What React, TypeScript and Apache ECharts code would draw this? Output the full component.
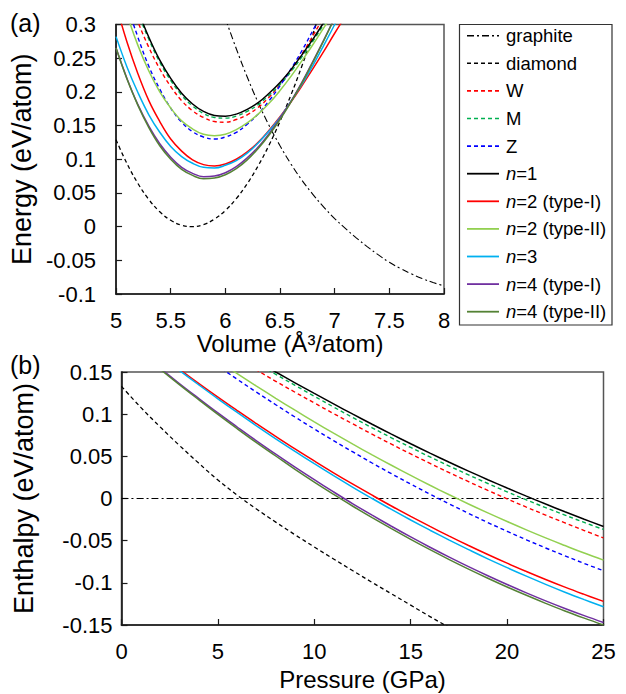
import React, { useEffect, useRef } from 'react';
import * as echarts from 'echarts';

const FONT = '"Liberation Sans", Arial, Helvetica, sans-serif';

// ---------- (a) Energy vs. volume ----------
const volumes = [5.0, 5.1, 5.2, 5.3, 5.4, 5.5, 5.6, 5.7, 5.8, 5.9, 6.0, 6.1, 6.2, 6.3, 6.4, 6.5, 6.6, 6.7, 6.8, 6.9, 7.0, 7.1, 7.2, 7.3, 7.4, 7.5, 7.6, 7.7, 7.8, 7.9, 8.0];
const N = null;
const eGraphite = [N, N, N, N, N, N, N, N, N, N, 0.309, 0.264, 0.222, 0.184, 0.150, 0.120, 0.093, 0.069, 0.048, 0.029, 0.012, -0.003, -0.017, -0.030, -0.042, -0.053, -0.062, -0.070, -0.077, -0.083, -0.088];
const eDiamond = [0.129, 0.0936, 0.0641, 0.0402, 0.022, 0.0094, 0.0021, 0.0, 0.0031, 0.0111, 0.0239, 0.0415, 0.0637, 0.0903, 0.1211, 0.1563, 0.1954, 0.2384, 0.2853, 0.3358];
const eW = [0.399, 0.348, 0.304, 0.266, 0.234, 0.208, 0.187, 0.172, 0.162, 0.156, 0.155, 0.159, 0.166, 0.177, 0.192, 0.211, 0.232, 0.256, 0.283, 0.312, 0.343];
const eM = [0.419, 0.365, 0.318, 0.278, 0.244, 0.217, 0.195, 0.179, 0.168, 0.162, 0.161, 0.164, 0.171, 0.181, 0.195, 0.211, 0.230, 0.252, 0.275, 0.300, 0.326];
const eZ = [0.390, 0.331, 0.281, 0.238, 0.204, 0.176, 0.155, 0.141, 0.133, 0.130, 0.133, 0.140, 0.152, 0.167, 0.187, 0.209, 0.234, 0.261, 0.291, 0.322];
const eN1 = [0.422, 0.368, 0.321, 0.281, 0.247, 0.220, 0.198, 0.182, 0.171, 0.165, 0.164, 0.167, 0.174, 0.184, 0.198, 0.214, 0.233, 0.255, 0.278, 0.303, 0.329];
const eN2I = [0.329, 0.274, 0.227, 0.187, 0.156, 0.130, 0.112, 0.099, 0.092, 0.090, 0.093, 0.100, 0.111, 0.125, 0.143, 0.163, 0.185, 0.209, 0.234, 0.260, 0.287, 0.313];
const eN2II = [0.368, 0.315, 0.269, 0.231, 0.200, 0.176, 0.157, 0.145, 0.137, 0.135, 0.137, 0.144, 0.154, 0.167, 0.183, 0.202, 0.223, 0.246, 0.270, 0.295, 0.320];
const eN3 = [0.282, 0.237, 0.199, 0.166, 0.140, 0.119, 0.104, 0.094, 0.088, 0.087, 0.091, 0.098, 0.109, 0.124, 0.142, 0.162, 0.186, 0.211, 0.239, 0.269, 0.300, 0.333];
const eN4I = [0.265, 0.220, 0.181, 0.149, 0.123, 0.103, 0.088, 0.079, 0.074, 0.075, 0.080, 0.089, 0.102, 0.118, 0.138, 0.161, 0.186, 0.214, 0.245, 0.277, 0.310];
const eN4II = [0.265, 0.219, 0.180, 0.147, 0.120, 0.100, 0.085, 0.076, 0.071, 0.072, 0.077, 0.086, 0.099, 0.116, 0.136, 0.159, 0.185, 0.213, 0.244, 0.276, 0.310];

// ---------- (b) Enthalpy vs. pressure ----------
const pressures = [0, 1, 2, 3, 4, 5, 6, 7, 8, 9, 10, 11, 12, 13, 14, 15, 16, 17, 18, 19, 20, 21, 22, 23, 24, 25];
const hGraphite = [0, 0, 0, 0, 0, 0, 0, 0, 0, 0, 0, 0, 0, 0, 0, 0, 0, 0, 0, 0, 0, 0, 0, 0, 0, 0];
const hDiamond = [0.133, 0.108, 0.085, 0.063, 0.042, 0.022, 0.004, -0.0125, -0.028, -0.043, -0.0575, -0.0717, -0.0857, -0.0995, -0.113, -0.1265, -0.14, -0.153, -0.166];
const hW = [N, N, N, N, N, N, 0.166, 0.1525, 0.139, 0.126, 0.1133, 0.1007, 0.0884, 0.0762, 0.0644, 0.0528, 0.0416, 0.0306, 0.0200, 0.0096, -0.0004, -0.0102, -0.0197, -0.0289, -0.0380, -0.0467];
const hM = [N, N, N, N, N, N, 0.1735, 0.1605, 0.1473, 0.1342, 0.1213, 0.1085, 0.0960, 0.0838, 0.0720, 0.0605, 0.0493, 0.0385, 0.0280, 0.0178, 0.0079, -0.0017, -0.0108, -0.0197, -0.0284, -0.0367];
const hZ = [N, N, N, N, 0.1732, 0.1571, 0.1414, 0.1261, 0.1112, 0.0966, 0.0824, 0.0686, 0.0552, 0.0421, 0.0294, 0.0171, 0.0051, -0.0064, -0.0176, -0.0285, -0.0389, -0.0490, -0.0587, -0.0680, -0.0770, -0.0856];
const hN1 = [N, N, N, N, N, N, 0.176, 0.163, 0.150, 0.1372, 0.1246, 0.1122, 0.1000, 0.0880, 0.0763, 0.0649, 0.0538, 0.0430, 0.0325, 0.0223, 0.0124, 0.0028, -0.0066, -0.0157, -0.0246, -0.0332];
const hN2I = [N, N, 0.1706, 0.1534, 0.1366, 0.1202, 0.1043, 0.0887, 0.0736, 0.0588, 0.0445, 0.0305, 0.0170, 0.0039, -0.0089, -0.0212, -0.0331, -0.0446, -0.0557, -0.0664, -0.0767, -0.0865, -0.0960, -0.1051, -0.1137, -0.1220];
const hN2II = [N, N, N, N, 0.179, 0.1634, 0.1482, 0.1333, 0.1188, 0.1047, 0.0909, 0.0775, 0.0644, 0.0517, 0.0394, 0.0274, 0.0157, 0.0044, -0.0065, -0.0171, -0.0273, -0.0372, -0.0467, -0.0558, -0.0647, -0.0731];
const hN3 = [N, N, 0.1693, 0.1519, 0.1349, 0.1182, 0.1020, 0.0862, 0.0708, 0.0559, 0.0413, 0.0271, 0.0133, 0.0000, -0.0130, -0.0255, -0.0376, -0.0493, -0.0606, -0.0716, -0.0820, -0.0921, -0.1018, -0.1111, -0.1199, -0.1284];
const hN4I = [N, 0.1732, 0.1546, 0.1364, 0.1188, 0.1015, 0.0848, 0.0684, 0.0526, 0.0372, 0.0223, 0.0078, -0.0063, -0.0198, -0.0329, -0.0456, -0.0578, -0.0695, -0.0808, -0.0916, -0.1020, -0.1119, -0.1214, -0.1304, -0.1389, -0.1470];
const hN4II = [N, 0.1722, 0.1534, 0.1350, 0.1172, 0.0997, 0.0828, 0.0663, 0.0504, 0.0345, 0.0194, 0.0049, -0.0092, -0.0227, -0.0358, -0.0485, -0.0607, -0.0724, -0.0837, -0.0945, -0.1049, -0.1148, -0.1243, -0.1334, -0.1419, -0.1500];

const names = ['graphite', 'diamond', 'W', 'M', 'Z', 'n=1', 'n=2 (type-I)', 'n=2 (type-II)', 'n=3', 'n=4 (type-I)', 'n=4 (type-II)'];
const colors = ['#000000', '#000000', '#ff0000', '#00b050', '#0000ff', '#000000', '#ff0000', '#92d050', '#00b0f0', '#7030a0', '#548235'];
const dashes: (number[] | 'solid')[] = [[7, 3, 2, 3], [4, 3], [4, 3], [4, 3], [4, 3], 'solid', 'solid', 'solid', 'solid', 'solid', 'solid'];
const widths = [1.1, 1.3, 1.4, 1.4, 1.4, 1.5, 1.5, 1.5, 1.5, 1.5, 1.5];
const topData = [eGraphite, eDiamond, eW, eM, eZ, eN1, eN2I, eN2II, eN3, eN4I, eN4II];
const bottomData = [hGraphite, hDiamond, hW, hM, hZ, hN1, hN2I, hN2II, hN3, hN4I, hN4II];

const pairs = (xs: number[], ys: (number | null)[]) =>
  ys.map((y, i) => [xs[i], y]).filter((p) => p[1] !== null && p[0] !== undefined);

const richName = (n: string) => (n.startsWith('n=') ? '{i|n}' + n.slice(1) : n);

export default function App() {
  const ref = useRef<HTMLDivElement>(null);
  useEffect(() => {
    document.body.style.margin = '0';
    if (!ref.current) return;
    const chart = echarts.init(ref.current, null, { renderer: 'svg' });

    const axisCommon = {
      axisLine: { onZero: false, lineStyle: { color: '#1a1a1a', width: 1.6 } },
      axisTick: { inside: true, length: 6, lineStyle: { color: '#1a1a1a', width: 1.2 } },
      splitLine: { show: false },
      axisLabel: { color: '#000', fontSize: 22, fontFamily: FONT },
      nameTextStyle: { color: '#000', fontFamily: FONT },
    };

    const series: any[] = [];
    names.forEach((name, i) => {
      series.push({
        name, type: 'line', xAxisIndex: 0, yAxisIndex: 0, symbol: 'none', smooth: 0.4,
        data: pairs(volumes, topData[i]),
        lineStyle: { color: colors[i], width: widths[i], type: dashes[i] },
        z: 3,
      });
      series.push({
        name, type: 'line', xAxisIndex: 1, yAxisIndex: 1, symbol: 'none', smooth: 0.4,
        data: pairs(pressures, bottomData[i]),
        lineStyle: { color: colors[i], width: widths[i], type: dashes[i] },
        z: 3,
      });
    });

    const legendTop = 35.7;
    const legendStep = 27.6;
    const legendEls: any[] = [
      { type: 'rect', shape: { x: 459.5, y: 24.5, width: 152.5, height: 300.5 }, style: { fill: 'none', stroke: '#333', lineWidth: 1.2 } },
    ];
    names.forEach((name, i) => {
      const y = legendTop + legendStep * i;
      legendEls.push({
        type: 'line', shape: { x1: 467, y1: y, x2: 499, y2: y },
        style: { stroke: colors[i], lineWidth: widths[i] + 0.3, lineDash: dashes[i] === 'solid' ? null : dashes[i] },
      });
      legendEls.push({
        type: 'text', x: 506, y,
        style: {
          text: richName(name), fill: '#000', fontSize: 18.5, fontFamily: FONT, verticalAlign: 'middle', align: 'left',
          rich: { i: { fontStyle: 'italic', fontSize: 18.5, fontFamily: FONT, fill: '#000' } },
        },
      });
    });

    chart.setOption({
      animation: false,
      backgroundColor: '#fff',
      grid: [
        { left: 116, top: 24.5, width: 328, height: 269.5, show: true, borderColor: '#555', borderWidth: 1.5, backgroundColor: 'transparent' },
        { left: 121.5, top: 372, width: 482, height: 253, show: true, borderColor: '#555', borderWidth: 1.5, backgroundColor: 'transparent' },
      ],
      xAxis: [
        {
          ...axisCommon, type: 'value', gridIndex: 0, min: 5, max: 8, interval: 0.5,
          axisLabel: { ...axisCommon.axisLabel, margin: 15 },
          name: 'Volume (Å³/atom)', nameLocation: 'middle', nameGap: 37,
          nameTextStyle: { ...axisCommon.nameTextStyle, fontSize: 24, padding: [0, 0, 0, 20] },
        },
        {
          ...axisCommon, type: 'value', gridIndex: 1, min: 0, max: 25, interval: 5,
          axisLabel: { ...axisCommon.axisLabel, margin: 15 },
          name: 'Pressure (GPa)', nameLocation: 'middle', nameGap: 42,
          nameTextStyle: { ...axisCommon.nameTextStyle, fontSize: 24 },
        },
      ],
      yAxis: [
        {
          ...axisCommon, type: 'value', gridIndex: 0, min: -0.1, max: 0.3, interval: 0.05,
          axisLabel: { ...axisCommon.axisLabel, margin: 20 },
          name: 'Energy (eV/atom)', nameLocation: 'middle', nameGap: 76,
          nameTextStyle: { ...axisCommon.nameTextStyle, fontSize: 27 },
        },
        {
          ...axisCommon, type: 'value', gridIndex: 1, min: -0.15, max: 0.15, interval: 0.05,
          axisLabel: { ...axisCommon.axisLabel, margin: 9 },
          name: 'Enthalpy (eV/atom)', nameLocation: 'middle', nameGap: 84,
          nameTextStyle: { ...axisCommon.nameTextStyle, fontSize: 27 },
        },
      ],
      series,
      graphic: [
        { type: 'text', x: 10, y: 10, style: { text: '(a)', fontSize: 25, fontFamily: FONT, fill: '#000' } },
        { type: 'text', x: 10, y: 352, style: { text: '(b)', fontSize: 25, fontFamily: FONT, fill: '#000' } },
        ...legendEls,
      ],
    });
    return () => chart.dispose();
  }, []);
  return <div ref={ref} style={{ width: 626, height: 694 }} />;
}
